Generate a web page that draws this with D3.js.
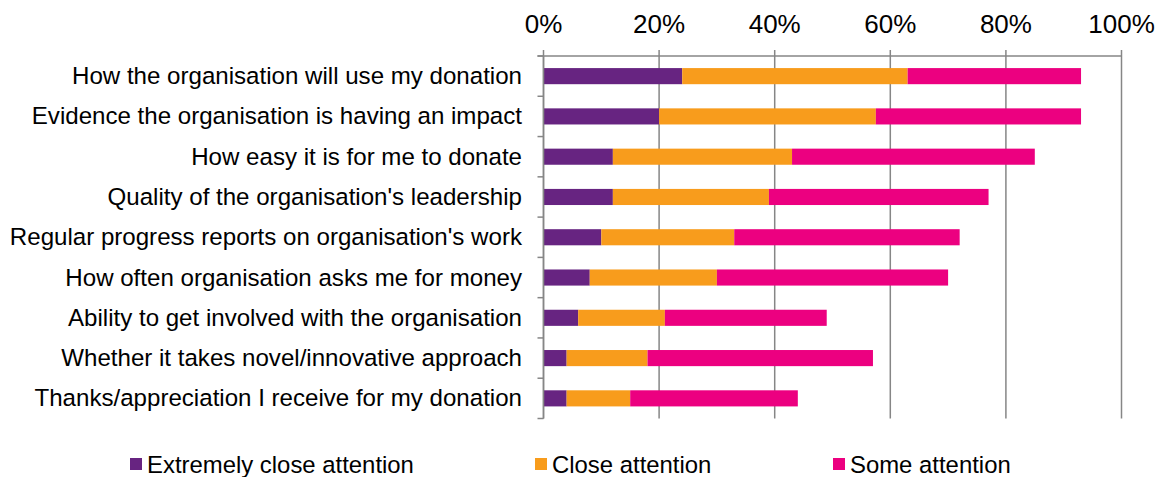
<!DOCTYPE html>
<html><head><meta charset="utf-8">
<script src="https://cdn.jsdelivr.net/npm/d3@7"></script>
<style>body{margin:0;background:#fff}svg{display:block}text{font-family:"Liberation Sans",Arial,sans-serif;fill:#000}</style>
</head><body><svg id="c" width="1162" height="477"></svg>
<script>
const categories = [
  "How the organisation will use my donation",
  "Evidence the organisation is having an impact",
  "How easy it is for me to donate",
  "Quality of the organisation's leadership",
  "Regular progress reports on organisation's work",
  "How often organisation asks me for money",
  "Ability to get involved with the organisation",
  "Whether it takes novel/innovative approach",
  "Thanks/appreciation I receive for my donation"
];
const seriesNames = ["Extremely close attention", "Close attention", "Some attention"];
const extremelyClose = [24, 20, 12, 12, 10, 8, 6, 4, 4];
const close = [39, 37.5, 31, 27, 23, 22, 15, 14, 11];
const some = [30, 35.5, 42, 38, 39, 40, 28, 39, 29];
const colors = ["#672481", "#F89C1C", "#EC0080"];
const tickValues = [0, 20, 40, 60, 80, 100];

const svg = d3.select("#c");
const pLeft = 543.5, pRight = 1121.5, pTop = 56, pBottom = 418.5;
const x = d3.scaleLinear().domain([0, 100]).range([pLeft, pRight]);
const y = d3.scaleBand().domain(categories).range([pTop, pBottom]).paddingInner(0.6).paddingOuter(0.3);
const gridColor = "#868686";

// gridlines
svg.append("g").selectAll("line").data(tickValues).join("line")
  .attr("x1", d => x(d)).attr("x2", d => x(d))
  .attr("y1", pTop - 6).attr("y2", pBottom)
  .attr("stroke", gridColor).attr("stroke-width", 1.5);
// top axis line
svg.append("line").attr("x1", pLeft - 6).attr("x2", pRight).attr("y1", pTop).attr("y2", pTop)
  .attr("stroke", gridColor).attr("stroke-width", 1.5);
// tick labels
svg.append("g").selectAll("text").data(tickValues).join("text")
  .attr("x", d => x(d)).attr("y", 33).attr("text-anchor", "middle")
  .attr("font-size", 26).text(d => d + "%");
// left axis ticks at band boundaries
const step = y.step();
const boundaries = d3.range(categories.length + 1).map(i => pTop + i * step);
svg.append("g").selectAll("line").data(boundaries).join("line")
  .attr("x1", pLeft - 6).attr("x2", pLeft).attr("y1", d => d).attr("y2", d => d)
  .attr("stroke", gridColor).attr("stroke-width", 1.5);

// stacked bars
const rows = categories.map((c, i) => ({cat: c, v: [extremelyClose[i], close[i], some[i]]}));
const stack = d3.stack().keys([0, 1, 2]).value((d, k) => d.v[k]);
const layers = stack(rows);
svg.append("g").selectAll("g").data(layers).join("g")
  .attr("fill", (d, i) => colors[i])
  .selectAll("rect").data(d => d).join("rect")
  .attr("x", d => x(d[0])).attr("width", d => x(d[1]) - x(d[0]))
  .attr("y", d => y(d.data.cat)).attr("height", y.bandwidth());

// left axis line
svg.append("line").attr("x1", pLeft).attr("x2", pLeft).attr("y1", pTop).attr("y2", pBottom)
  .attr("stroke", gridColor).attr("stroke-width", 1.5);

// category labels
svg.append("g").selectAll("text").data(categories).join("text")
  .attr("x", 522).attr("y", d => y(d) + y.bandwidth() / 2 + 8)
  .attr("text-anchor", "end").attr("font-size", 24.1).text(d => d);

// legend
const legendX = [130, 535, 833];
const lg = svg.append("g").selectAll("g").data(seriesNames).join("g")
  .attr("transform", (d, i) => `translate(${legendX[i]},0)`);
lg.append("rect").attr("x", 0).attr("y", 458).attr("width", 12).attr("height", 12)
  .attr("fill", (d, i) => colors[i]);
lg.append("text").attr("x", 17).attr("y", 473).attr("font-size", 23.9).text(d => d);
</script></body></html>
